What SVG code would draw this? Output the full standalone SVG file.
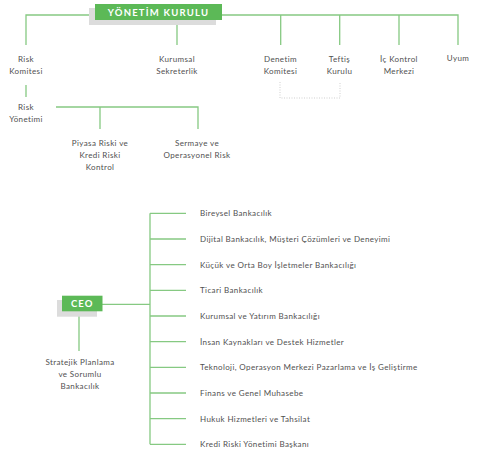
<svg xmlns="http://www.w3.org/2000/svg" width="477" height="476" viewBox="0 0 477 476">
<style>
.ln{stroke:#86c982;stroke-width:1.3;fill:none}
.t{font-family:Lato,"Liberation Sans",sans-serif;font-size:8px;letter-spacing:0.38px;fill:#505050}
.c{text-anchor:middle}
.hd{font-family:Lato,"Liberation Sans",sans-serif;font-size:9.5px;fill:#fff;font-weight:bold;text-anchor:middle}
.box{fill:#5cb957}
.sh{fill:#dcdcdc}
</style>
<rect width="477" height="476" fill="#fff"/>
<g id="connectors">
<path class="ln" d="M26,45V15H95M222,15H458V45M177,25V45M280.7,15V45M339.7,15V45M399,15V45"/>
<path class="ln" d="M26,85V97M56,107H198V129M100,107V129"/>
<path class="ln" d="M79,316V351M102,304.3H150M150,213.3V444.3"/>
<path class="ln" d="M150,213.3H186M150,239H186M150,264.7H186M150,290.3H186M150,316H186M150,341.7H186M150,367.3H186M150,393H186M150,418.7H186M150,444.3H186"/>
<path d="M280,82V98H340V82" fill="none" stroke="#cfcfcf" stroke-width="1" stroke-dasharray="1,1.5"/>
</g>
<g id="yonetim-kurulu">
<rect class="sh" x="89" y="8" width="127" height="17"/>
<rect class="box" x="95" y="4" width="127" height="16"/>
<text class="hd" x="158.5" y="15.5" letter-spacing="1.2">YÖNETİM KURULU</text>
</g>
<g id="risk-komitesi"><text class="t c" x="26" y="62">Risk</text><text class="t c" x="26" y="74">Komitesi</text></g>
<g id="kurumsal-sekreterlik"><text class="t c" x="177" y="62">Kurumsal</text><text class="t c" x="177" y="74">Sekreterlik</text></g>
<g id="denetim-komitesi"><text class="t c" x="280.5" y="62">Denetim</text><text class="t c" x="280.5" y="74">Komitesi</text></g>
<g id="teftis-kurulu"><text class="t c" x="339.5" y="62">Teftiş</text><text class="t c" x="339.5" y="74">Kurulu</text></g>
<g id="ic-kontrol"><text class="t c" x="399" y="62">İç Kontrol</text><text class="t c" x="399" y="74">Merkezi</text></g>
<g id="uyum"><text class="t c" x="458" y="61">Uyum</text></g>
<g id="risk-yonetimi"><text class="t c" x="26" y="110">Risk</text><text class="t c" x="26" y="122">Yönetimi</text></g>
<g id="piyasa-riski"><text class="t c" x="100" y="146">Piyasa Riski ve</text><text class="t c" x="100" y="158">Kredi Riski</text><text class="t c" x="100" y="170">Kontrol</text></g>
<g id="sermaye"><text class="t c" x="197" y="146">Sermaye ve</text><text class="t c" x="197" y="158">Operasyonel Risk</text></g>
<g id="ceo">
<rect class="sh" x="57" y="300" width="40" height="16.7"/>
<rect class="box" x="62" y="295.7" width="40.5" height="15.6"/>
<text class="hd" x="82.2" y="307" letter-spacing="1">CEO</text>
</g>
<g id="stratejik"><text class="t c" x="80" y="365">Stratejik Planlama</text><text class="t c" x="80" y="377">ve Sorumlu</text><text class="t c" x="80" y="389">Bankacılık</text></g>
<g id="units">
<text class="t" x="200" y="216.3">Bireysel Bankacılık</text>
<text class="t" x="200" y="242">Dijital Bankacılık, Müşteri Çözümleri ve Deneyimi</text>
<text class="t" x="200" y="267.7">Küçük ve Orta Boy İşletmeler Bankacılığı</text>
<text class="t" x="200" y="293.3">Ticari Bankacılık</text>
<text class="t" x="200" y="319">Kurumsal ve Yatırım Bankacılığı</text>
<text class="t" x="200" y="344.7">İnsan Kaynakları ve Destek Hizmetler</text>
<text class="t" x="200" y="370.3">Teknoloji, Operasyon Merkezi Pazarlama ve İş Geliştirme</text>
<text class="t" x="200" y="396">Finans ve Genel Muhasebe</text>
<text class="t" x="200" y="421.7">Hukuk Hizmetleri ve Tahsilat</text>
<text class="t" x="200" y="447.3">Kredi Riski Yönetimi Başkanı</text>
</g>
</svg>
